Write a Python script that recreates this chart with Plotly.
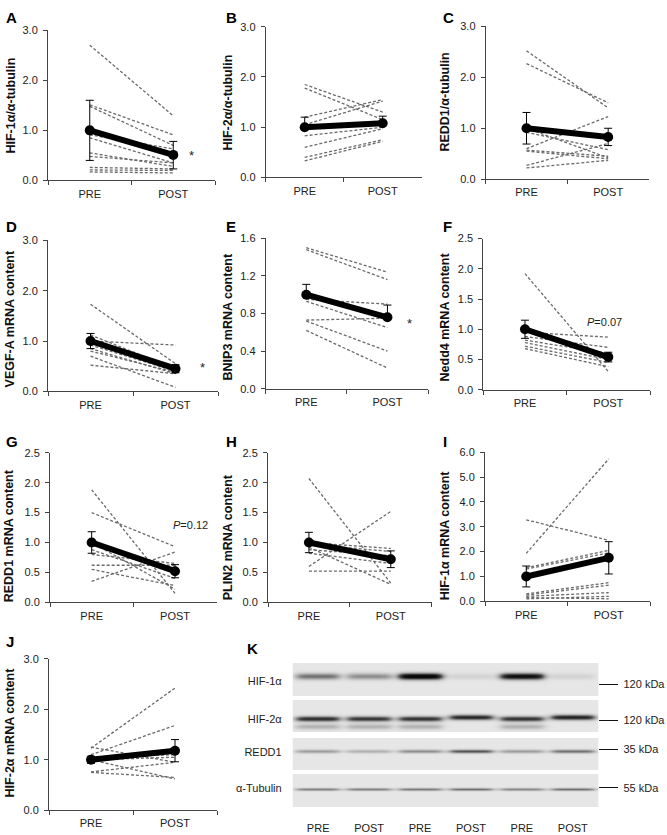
import numpy as np
import plotly.graph_objects as go

W, H = 667, 835
FONT = "Liberation Sans, Arial, sans-serif"

categories = ["PRE", "POST"]

# ---------------- data ----------------
A_pre = [2.70, 1.51, 1.48, 0.91, 0.85, 0.55, 0.48, 0.26, 0.21, 0.17]
A_post = [1.29, 0.91, 0.70, 0.63, 0.35, 0.28, 0.35, 0.23, 0.20, 0.15]
A_mean = [1.00, 0.51]
A_eu = [0.60, 0.27]
A_ed = [0.60, 0.28]

B_pre = [1.85, 1.78, 1.20, 1.05, 0.83, 0.60, 0.40, 0.33]
B_post = [1.30, 1.15, 1.55, 1.52, 1.00, 0.97, 0.75, 0.72]
B_mean = [1.00, 1.08]
B_eu = [0.20, 0.14]
B_ed = [0.00, 0.00]

C_pre = [2.52, 2.27, 1.00, 0.92, 0.60, 0.57, 0.55, 0.27, 0.22]
C_post = [1.40, 1.50, 0.42, 0.58, 1.23, 0.45, 0.40, 0.70, 0.37]
C_mean = [1.00, 0.83]
C_eu = [0.31, 0.17]
C_ed = [0.31, 0.17]

D_pre = [1.73, 1.12, 1.00, 0.92, 0.85, 0.80, 0.70, 0.52]
D_post = [0.55, 0.45, 0.92, 0.40, 0.35, 0.38, 0.08, 0.35]
D_mean = [1.00, 0.45]
D_eu = [0.15, 0.08]
D_ed = [0.15, 0.08]

E_pre = [1.50, 1.48, 0.95, 0.93, 0.73, 0.72, 0.62]
E_post = [1.24, 1.16, 0.90, 0.65, 0.75, 0.40, 0.22]
E_mean = [1.00, 0.76]
E_eu = [0.11, 0.13]
E_ed = [0.00, 0.00]

F_pre = [1.92, 0.95, 0.88, 0.82, 0.78, 0.72, 0.68]
F_post = [0.30, 0.87, 0.70, 0.60, 0.50, 0.45, 0.38]
F_mean = [1.00, 0.54]
F_eu = [0.15, 0.08]
F_ed = [0.15, 0.08]

G_pre = [1.88, 1.50, 1.00, 0.88, 0.80, 0.62, 0.55, 0.35]
G_post = [0.15, 0.93, 0.22, 0.40, 0.65, 0.62, 0.28, 0.84]
G_mean = [1.00, 0.52]
G_eu = [0.18, 0.11]
G_ed = [0.18, 0.11]

H_pre = [2.07, 1.00, 0.97, 0.92, 0.88, 0.82, 0.60, 0.52]
H_post = [0.32, 0.90, 0.85, 0.30, 0.78, 0.65, 1.52, 0.52]
H_mean = [1.00, 0.72]
H_eu = [0.17, 0.14]
H_ed = [0.17, 0.14]

I_pre = [1.93, 3.28, 1.35, 1.30, 0.30, 0.25, 0.20, 0.15, 0.10]
I_post = [5.73, 2.45, 2.05, 1.95, 0.75, 0.65, 0.35, 0.10, 0.20]
I_mean = [1.00, 1.75]
I_eu = [0.42, 0.65]
I_ed = [0.42, 0.65]

J_pre = [1.23, 1.10, 1.25, 1.05, 1.00, 0.75, 0.76, 1.00]
J_post = [2.42, 1.68, 0.95, 1.10, 1.05, 0.65, 0.95, 0.62]
J_mean = [1.00, 1.18]
J_eu = [0.07, 0.22]
J_ed = [0.07, 0.22]

# Western blot (panel K)
lane_labels = ["PRE", "POST", "PRE", "POST", "PRE", "POST"]
proteins = ["HIF-1α", "HIF-2α", "REDD1", "α-Tubulin"]
kda_labels = ["120 kDa", "120 kDa", "35 kDa", "55 kDa"]
band_HIF1a = [0.45, 0.35, 1.00, 0.08, 0.90, 0.08]
band_HIF2a = [0.72, 0.68, 0.70, 0.75, 0.70, 0.78]
band_REDD1 = [0.30, 0.22, 0.35, 0.55, 0.30, 0.45]
band_tub = [0.40, 0.40, 0.42, 0.45, 0.38, 0.45]

# ---------------- layout geometry (pixels) ----------------
panels = [
    dict(L="A", pre=A_pre, post=A_post, mean=A_mean, eu=A_eu, ed=A_ed, yr=[0, 3], dt=1.0,
         title="HIF-1α/α-tubulin", box=(48, 215, 24.5, 177), tpos=(11, 101), lpos=(4, 1)),
    dict(L="B", pre=B_pre, post=B_post, mean=B_mean, eu=B_eu, ed=B_ed, yr=[0, 3], dt=1.0,
         title="HIF-2α/α-tubulin", box=(265.7, 421.7, 21, 174), tpos=(228, 98), lpos=(224, 1)),
    dict(L="C", pre=C_pre, post=C_post, mean=C_mean, eu=C_eu, ed=C_ed, yr=[0, 3], dt=1.0,
         title="REDD1/α-tubulin", box=(485.7, 649, 20.7, 175.7), tpos=(445, 98), lpos=(441, 1)),
    dict(L="D", pre=D_pre, post=D_post, mean=D_mean, eu=D_eu, ed=D_ed, yr=[0, 3], dt=1.0,
         title="VEGF-A mRNA content", box=(48, 218, 237.7, 391), tpos=(10, 318), lpos=(4, 213)),
    dict(L="E", pre=E_pre, post=E_post, mean=E_mean, eu=E_eu, ed=E_ed, yr=[0, 1.6], dt=0.4,
         title="BNIP3 mRNA content", box=(265.7, 428, 235.7, 388.3), tpos=(228, 316), lpos=(224, 213)),
    dict(L="F", pre=F_pre, post=F_post, mean=F_mean, eu=F_eu, ed=F_ed, yr=[0, 2.5], dt=0.5,
         title="Nedd4 mRNA content", box=(483.3, 650, 236, 389.3), tpos=(445, 316), lpos=(441, 213)),
    dict(L="G", pre=G_pre, post=G_post, mean=G_mean, eu=G_eu, ed=G_ed, yr=[0, 2.5], dt=0.5,
         title="REDD1 mRNA content", box=(50, 216.7, 453.3, 605), tpos=(9, 538), lpos=(4, 431)),
    dict(L="H", pre=H_pre, post=H_post, mean=H_mean, eu=H_eu, ed=H_ed, yr=[0, 2.5], dt=0.5,
         title="PLIN2 mRNA content", box=(268, 431.7, 453.3, 605), tpos=(228, 539), lpos=(224, 431)),
    dict(L="I", pre=I_pre, post=I_post, mean=I_mean, eu=I_eu, ed=I_ed, yr=[0, 6], dt=1.0,
         title="HIF-1α mRNA content", box=(485, 650, 452.7, 604), tpos=(445, 537), lpos=(441, 431)),
    dict(L="J", pre=J_pre, post=J_post, mean=J_mean, eu=J_eu, ed=J_ed, yr=[0, 3], dt=1.0,
         title="HIF-2α mRNA content", box=(49, 217, 662.3, 816), tpos=(10, 737), lpos=(4, 634)),
]

fig = go.Figure()
layout = dict(width=W, height=H, margin=dict(l=0, r=0, t=0, b=0),
              paper_bgcolor="white", plot_bgcolor="white", showlegend=False,
              font=dict(family=FONT, size=11, color="#222"))
annotations = []

AX = "#444"
for i, p in enumerate(panels, start=1):
    xa, ya = f"x{i}", f"y{i}"
    x0, x1, y0, y1 = p["box"]
    for a, b in zip(p["pre"], p["post"]):
        fig.add_trace(go.Scatter(x=categories, y=[a, b], mode="lines", xaxis=xa, yaxis=ya,
                                 line=dict(color="#6a6a6a", width=1.3, dash="3px,2px"),
                                 hoverinfo="skip"))
    fig.add_trace(go.Scatter(x=categories, y=p["mean"], mode="lines+markers", xaxis=xa, yaxis=ya,
                             line=dict(color="black", width=6),
                             marker=dict(color="black", size=10),
                             error_y=dict(type="data", array=p["eu"], arrayminus=p["ed"],
                                          color="black", thickness=1, width=4),
                             cliponaxis=False))
    kx = "xaxis" if i == 1 else f"xaxis{i}"
    ky = "yaxis" if i == 1 else f"yaxis{i}"
    layout[kx] = dict(domain=[x0 / W, x1 / W], anchor=ya, type="category",
                      categoryorder="array", categoryarray=categories,
                      range=[-0.5, 1.5], tickson="boundaries", ticks="outside",
                      ticklen=4, tickcolor=AX, showline=True, linecolor=AX, linewidth=1,
                      showgrid=False, zeroline=False, fixedrange=True,
                      tickfont=dict(size=11, color="#222"), ticklabelstandoff=3)
    layout[ky] = dict(domain=[1 - y1 / H, 1 - y0 / H], anchor=xa, range=p["yr"],
                      dtick=p["dt"], tick0=0, tickformat=".1f", ticks="outside", ticklen=4,
                      tickcolor=AX, showline=True, linecolor=AX, linewidth=1,
                      showgrid=False, zeroline=False, fixedrange=True,
                      tickfont=dict(size=11, color="#222"), ticklabelstandoff=3)
    tx, ty = p["tpos"]
    annotations.append(dict(x=tx / W, y=1 - ty / H, xref="paper", yref="paper",
                            text=f"<b>{p['title']}</b>", textangle=-90, showarrow=False,
                            font=dict(size=12.5, color="#111"), xanchor="center", yanchor="middle"))
    lx, ly = p["lpos"]
    annotations.append(dict(x=lx / W, y=1 - ly / H, xref="paper", yref="paper",
                            text=f"<b>{p['L']}</b>", showarrow=False, xanchor="left", yanchor="top",
                            font=dict(size=15, color="black")))

# significance marks
annotations += [
    dict(x=1.22, y=0.50, xref="x", yref="y", text="*", showarrow=False, font=dict(size=13, color="#222")),
    dict(x=1.32, y=0.48, xref="x4", yref="y4", text="*", showarrow=False, font=dict(size=13, color="#222")),
    dict(x=1.27, y=0.69, xref="x5", yref="y5", text="*", showarrow=False, font=dict(size=13, color="#222")),
    dict(x=0.96, y=1.12, xref="x6", yref="y6", text="<i>P</i>=0.07", showarrow=False,
         font=dict(size=11, color="#222")),
    dict(x=1.19, y=1.29, xref="x7", yref="y7", text="<i>P</i>=0.12", showarrow=False,
         font=dict(size=11, color="#222")),
]

# ---------------- panel K: western blot as heatmap ----------------
strips = [(0, 33.3), (37.3, 70.3), (76, 108.3), (112.6, 146)]
band_y = [13.5, 56.5, 89.5, 128.0]
band_sig = [3.2, 2.6, 1.8, 1.4]
label_y = [18.3, 57.3, 90, 126.6]
marker_y = [21.6, 58.3, 87.3, 126.6]
bands = [band_HIF1a, band_HIF2a, band_REDD1, band_tub]

xs = np.linspace(0.5, 6.5, 306)
ys = np.arange(0, 146.6, 0.5)
X, Y = np.meshgrid(xs, ys)
Z = np.zeros_like(X)
for (s0, s1), yc, sg, vals in zip(strips, band_y, band_sig, bands):
    inside = (Y >= s0) & (Y <= s1)
    Z[inside] = 0.09
    for lane, v in enumerate(vals, start=1):
        box = 1 / (1 + np.exp((np.abs(X - lane) - 0.42) / 0.05))
        shift = -1.5 if (vals is band_HIF2a and lane in (4, 6)) else 0
        prof = np.exp(-((Y - yc - shift) / sg) ** 2)
        add = v * box * prof
        if vals is band_HIF2a and lane in (1, 2, 3, 5):
            add += 0.22 * box * np.exp(-((Y - yc - 8) / 3.0) ** 2)
        Z += np.where(inside, add, 0)
Z = np.clip(Z, 0, 1)

fig.add_trace(go.Heatmap(x=xs, y=ys, z=Z, xaxis="x11", yaxis="y11", zmin=0, zmax=1,
                         colorscale=[[0, "#ffffff"], [0.09, "#e6e6e6"], [0.35, "#a8a8a8"],
                                     [0.7, "#444444"], [1, "#0a0a0a"]],
                         showscale=False, hoverinfo="skip"))
bx0, bx1, by0, by1 = 292.7, 598.3, 666.7, 813.3
layout["xaxis11"] = dict(domain=[bx0 / W, bx1 / W], anchor="y11", range=[0.5, 6.5],
                         tickvals=list(range(1, 7)), ticktext=lane_labels, ticks="",
                         showline=False, showgrid=False, zeroline=False, fixedrange=True,
                         tickfont=dict(size=11, color="#222"), ticklabelstandoff=12)
layout["yaxis11"] = dict(domain=[1 - by1 / H, 1 - by0 / H], anchor="x11", range=[146.6, 0],
                         tickvals=label_y, ticktext=proteins, ticks="", showline=False,
                         showgrid=False, zeroline=False, fixedrange=True,
                         tickfont=dict(size=11, color="#222"), ticklabelstandoff=10)
layout["yaxis12"] = dict(domain=[1 - by1 / H, 1 - by0 / H], anchor="x11", overlaying="y11",
                         side="right", range=[146.6, 0], tickvals=marker_y, ticktext=kda_labels,
                         ticks="outside", ticklen=19, tickwidth=1, tickcolor="#111",
                         showline=False, showgrid=False, zeroline=False, fixedrange=True,
                         tickfont=dict(size=11, color="#222"), ticklabelstandoff=3)
fig.add_trace(go.Scatter(x=[None], y=[None], xaxis="x11", yaxis="y12", hoverinfo="skip"))
annotations.append(dict(x=245 / W, y=1 - 641 / H, xref="paper", yref="paper", text="<b>K</b>",
                        showarrow=False, xanchor="left", yanchor="top",
                        font=dict(size=15, color="black")))

layout["annotations"] = annotations
fig.update_layout(**layout)
fig.write_html("out.html", config={"displayModeBar": False},
               post_script="document.body.style.margin='0';document.body.style.overflow='hidden';")
